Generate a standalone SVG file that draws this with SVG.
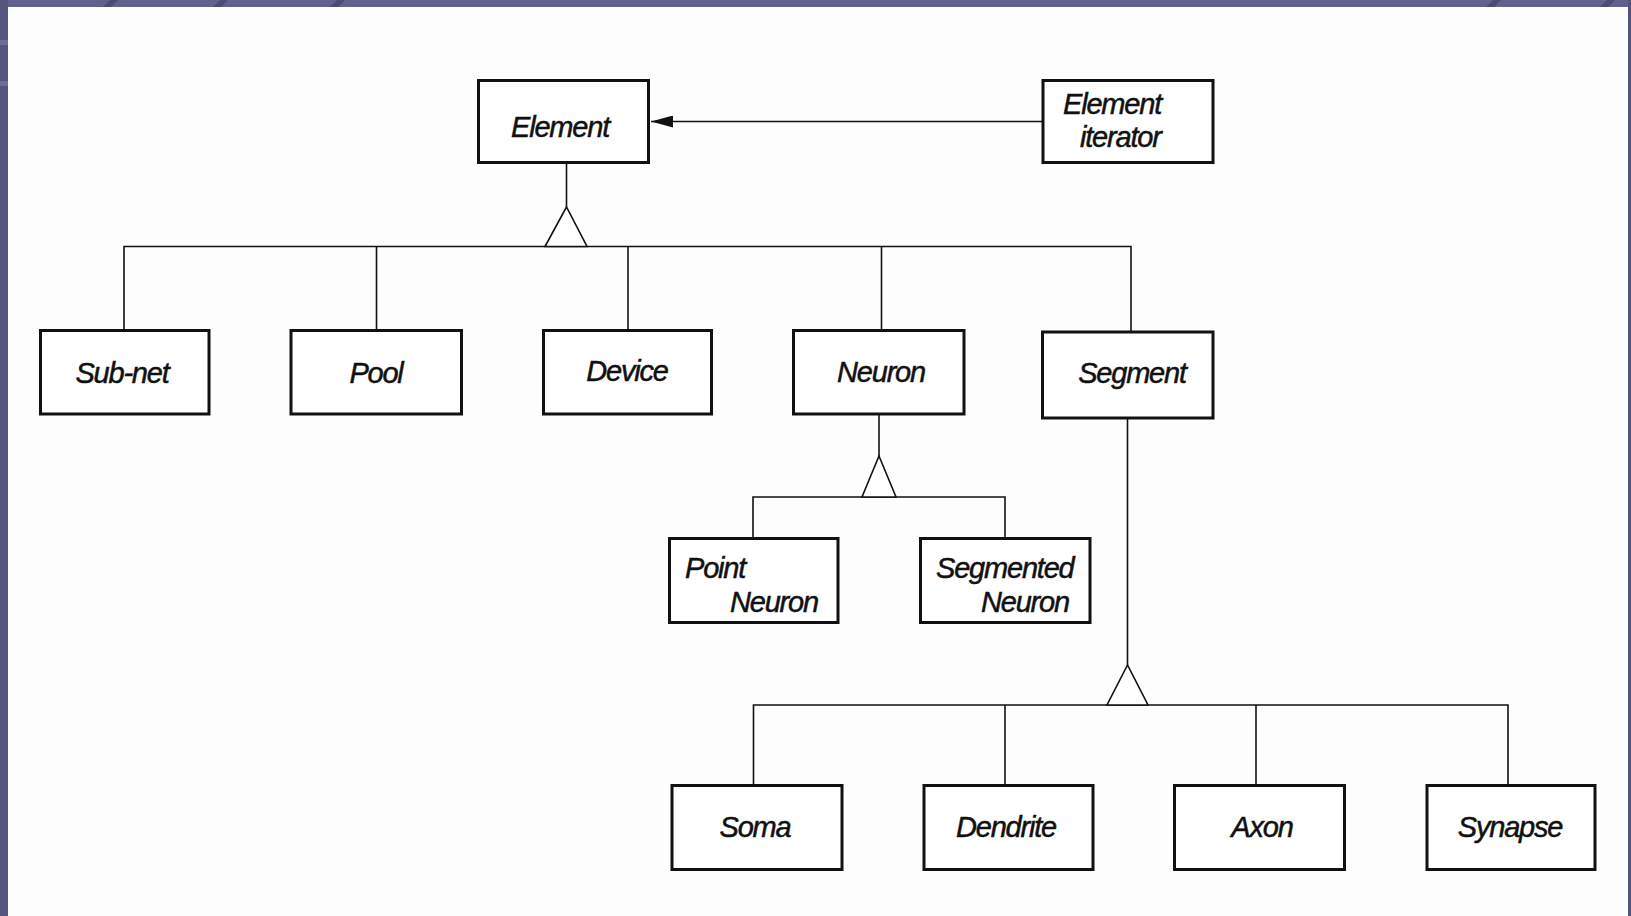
<svg xmlns="http://www.w3.org/2000/svg" width="1631" height="916" viewBox="0 0 1631 916">
<style>
.box{fill:#ffffff;stroke:#111111;stroke-width:3}
.lbl{font-family:"Liberation Sans",Arial,sans-serif;font-style:italic;font-size:29px;letter-spacing:-1.2px;fill:#111111;stroke:#111111;stroke-width:0.5}
.c{text-anchor:middle}
.ln{fill:none;stroke:#111111;stroke-width:1.6}
.tri{fill:#ffffff;stroke:#111111;stroke-width:1.6;stroke-linejoin:miter}
</style>
<defs>
<marker id="arr" viewBox="0 0 22 12" refX="22" refY="6" markerWidth="22" markerHeight="12" markerUnits="userSpaceOnUse" orient="auto">
<path d="M0,0 L22,6 L0,12 Z" fill="#111111"/>
</marker>
</defs>
<rect x="0" y="0" width="1631" height="916" fill="#fdfdfd"/>
<g id="frame">
<rect x="0" y="0" width="1631" height="7" fill="#62608e"/>
<rect x="0" y="0" width="8" height="916" fill="#55547f"/>
<rect x="1628" y="0" width="3" height="916" fill="#55547f"/>
<path d="M103,7 L110,0 L118,0 L111,7 Z M213,7 L220,0 L228,0 L221,7 Z M330,7 L337,0 L345,0 L338,7 Z M1486,7 L1493,0 L1501,0 L1494,7 Z M1600,7 L1607,0 L1615,0 L1608,7 Z" fill="#4c4b74"/>
<rect x="0" y="40" width="8" height="5" fill="#6e6c98"/>
<rect x="0" y="81" width="8" height="5" fill="#6e6c98"/>
</g>
<g id="connectors">
<line class="ln" x1="1043" y1="121.5" x2="651" y2="121.5" marker-end="url(#arr)"/>
<line class="ln" x1="566.5" y1="163" x2="566.5" y2="207"/>
<polyline class="ln" points="124,330 124,246.5 1131,246.5 1131,331"/>
<line class="ln" x1="376.5" y1="246.5" x2="376.5" y2="330"/>
<line class="ln" x1="628" y1="246.5" x2="628" y2="330"/>
<line class="ln" x1="881.5" y1="246.5" x2="881.5" y2="330"/>
<polygon class="tri" points="566.5,207 545,246.5 587,246.5"/>
<line class="ln" x1="879" y1="414" x2="879" y2="456"/>
<polyline class="ln" points="753,538 753,497 1005,497 1005,538"/>
<polygon class="tri" points="879,456 862,497 896,497"/>
<line class="ln" x1="1127.5" y1="418" x2="1127.5" y2="665"/>
<polyline class="ln" points="753.5,785 753.5,705 1508,705 1508,785"/>
<line class="ln" x1="1005" y1="705" x2="1005" y2="785"/>
<line class="ln" x1="1256" y1="705" x2="1256" y2="785"/>
<polygon class="tri" points="1127.5,665 1107,705 1148,705"/>
</g>
<g id="element">
<rect class="box" x="478.5" y="80.5" width="170" height="82"/>
<text class="lbl c" x="560" y="137">Element</text>
</g>
<g id="element-iterator">
<rect class="box" x="1043" y="80.5" width="170" height="82"/>
<text class="lbl" x="1063" y="114">Element</text>
<text class="lbl" x="1080" y="147">iterator</text>
</g>
<g id="subnet">
<rect class="box" x="40.5" y="330.5" width="168.5" height="83.5"/>
<text class="lbl c" x="122" y="383">Sub-net</text>
</g>
<g id="pool">
<rect class="box" x="291" y="330.5" width="170.5" height="83.5"/>
<text class="lbl c" x="376" y="383">Pool</text>
</g>
<g id="device">
<rect class="box" x="543.5" y="330.5" width="168" height="83.5"/>
<text class="lbl c" x="627" y="381">Device</text>
</g>
<g id="neuron">
<rect class="box" x="793.5" y="330.5" width="170.5" height="83.5"/>
<text class="lbl c" x="881" y="382">Neuron</text>
</g>
<g id="segment">
<rect class="box" x="1042.5" y="332" width="170.5" height="86"/>
<text class="lbl c" x="1132" y="383">Segment</text>
</g>
<g id="point-neuron">
<rect class="box" x="669.5" y="538.5" width="168.5" height="84"/>
<text class="lbl" x="685" y="578">Point</text>
<text class="lbl" x="730" y="612">Neuron</text>
</g>
<g id="segmented-neuron">
<rect class="box" x="920.5" y="538.5" width="169.5" height="84"/>
<text class="lbl" x="936" y="578">Segmented</text>
<text class="lbl" x="981" y="612">Neuron</text>
</g>
<g id="soma">
<rect class="box" x="672" y="785.5" width="170" height="84"/>
<text class="lbl c" x="755" y="837">Soma</text>
</g>
<g id="dendrite">
<rect class="box" x="924" y="785.5" width="169" height="84"/>
<text class="lbl c" x="1006" y="837">Dendrite</text>
</g>
<g id="axon">
<rect class="box" x="1174.5" y="785.5" width="170" height="84"/>
<text class="lbl c" x="1262" y="837">Axon</text>
</g>
<g id="synapse">
<rect class="box" x="1427" y="785.5" width="168" height="84"/>
<text class="lbl c" x="1510" y="837">Synapse</text>
</g>
</svg>
